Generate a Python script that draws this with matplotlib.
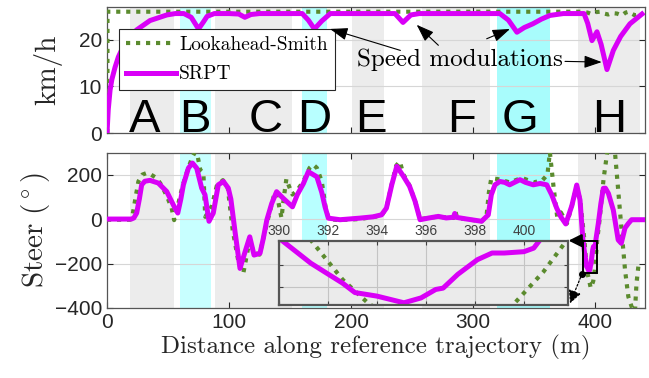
import matplotlib
matplotlib.use("Agg")
import matplotlib.pyplot as plt
from matplotlib.patches import Rectangle
from matplotlib.transforms import blended_transform_factory

plt.rcParams["mathtext.fontset"] = "cm"

# speed profile (km/h) along the reference path (m)
srpt_speed_x = [0, 1, 2.5, 4, 6.6, 9.3, 15, 24.3, 35.2, 49, 56, 63, 69, 75, 79, 82, 88,
                100, 108, 113, 118, 125, 160, 165, 170, 176, 183, 236, 242.6, 249, 256,
                322, 329, 336, 342, 349, 356, 363, 374, 391, 394, 397.5, 401.6, 405,
                409.8, 415, 421, 428.6, 438.5]
srpt_speed = [0, 5, 9.2, 11.5, 14.1, 16.3, 19.5, 22.1, 24.1, 25.3, 25.6, 25.6, 24.8, 22.3,
              23.8, 25, 25.6, 25.6, 25.5, 24.8, 25.4, 25.6, 25.6, 24.2, 22.3, 24, 25.6,
              25.6, 23.7, 25.3, 25.6, 25.6, 24.2, 21.6, 22.6, 23.4, 24.4, 25.2, 25.6,
              25.6, 23.5, 19.8, 21.7, 19, 13.6, 17.7, 20.7, 23.4, 25.5]
ls_speed_x = [0.3, 0.4, 390, 394, 397, 400.5, 404, 407.5, 410.8, 414, 418, 422, 425,
              427.6, 430, 432.8, 435]
ls_speed = [0, 26, 26, 25.8, 25.5, 25.9, 26, 25.6, 25.4, 25.7, 25.6, 25.2, 25.8, 26,
            25.6, 25.2, 25.4]

# steering angle (deg)
srpt_steer_x = [0, 20, 22, 24.3, 26.5, 28.4, 31, 35.2, 42, 48.9, 55.7, 58, 60.5, 62.6,
                66.7, 70, 73.5, 77.6, 80.3, 83.6, 87.1, 91.2, 95.4, 99.4, 101.5, 105, 109,
                113, 117, 120.5, 125.4, 128, 131, 135, 139, 144.5, 152, 156, 161, 165,
                172, 176, 178.7, 181.4, 191, 207, 218, 225, 229, 233.4, 237.5, 243, 248,
                252.5, 256.6, 264, 271.6, 278, 284, 285, 286, 295, 307, 312.5, 315, 318,
                322, 326, 330, 334, 338.5, 343, 349.4, 355, 360.4, 364.5, 368.6, 372, 376,
                381, 385, 387.7, 390.1, 391.3, 392.6, 393.1, 394.0, 395.1, 395.8, 396.4,
                396.7, 397.3, 398.1, 398.7, 399.2, 400.0, 400.4, 400.65, 402.7, 404.8,
                406.8, 408.5, 411, 415, 419, 421.5, 424.6, 427.3, 430, 439.6]
srpt_steer = [0, 0, 5, 27, 90, 154, 170, 174, 162, 124, 49, 27, 90, 154, 229, 252, 229,
              139, 109, -10, 27, 154, 169, 139, 90, -60, -222, -150, -80, -162, -154, -90,
              -4, 70, 123, 93, 55, 110, 160, 213, 190, 120, 55, 4, -3, 4, 10, 19, 49, 154,
              237, 192, 147, 80, -3, 5, 12, 5, 8, 25, 8, 0, -10, 19, 109, 154, 169, 165,
              154, 165, 177, 165, 154, 160, 154, 109, 49, 10, -22, 60, 153, 85, -95, -147,
              -192, -213, -221, -236, -225, -206, -203, -172, -139, -124, -124, -121,
              -113, -95, -20, 70, 138, 139, 115, 40, -94, -109, -40, -20, -3, -3]
ls_steer_x = [0, 19, 21, 23.5, 25.7, 29, 32.5, 36, 40.7, 45, 50, 53, 55, 58, 62, 66, 70,
              72, 74, 76.5, 79, 80.5, 83, 86, 90, 95, 99, 103, 108, 111.7, 115, 117, 120,
              125, 131, 137, 139, 141, 143, 145, 147, 149, 152, 156, 161, 166, 169, 172,
              176, 179.5, 182, 190, 207, 225, 229, 233.5, 237, 240, 243, 248, 252.5,
              256.6, 270, 284, 285.5, 287, 307, 311, 313, 315, 320, 330, 340, 350, 357,
              361, 363, 366, 369, 372, 377, 381, 385, 388, 391.3, 392.6, 393.7, 396.5,
              398.5, 399.5, 400.8, 401.7, 404, 407, 410, 413, 416.4, 419, 422, 424.6,
              427.3, 430, 432.5, 434, 435.5]
ls_steer = [-3, -3, 20, 100, 169, 200, 207, 200, 184, 150, 90, 49, -5, 60, 150, 220, 280,
            300, 290, 220, 207, 10, 30, 60, 150, 175, 140, -50, -200, -244, -150, -90,
            -150, -160, -20, 110, 120, 60, 5, 100, 180, 150, 110, 130, 170, 230, 245, 230,
            170, 40, 0, -5, 0, 15, 50, 160, 240, 259, 200, 150, 80, 0, 10, 5, 36, 5, -10,
            10, 120, 184, 180, 165, 185, 165, 175, 200, 300, 145, 10, 30, -20, 60, 150, 80,
            -95, -184, -240, -310, -280, -244, -166, -99, 10, 180, 300, 330, 297, 130, -64,
            -229, -349, -394, -440, -288, -214]

# road segments
seg_names = ["A", "B", "C", "D", "E", "F", "G", "H"]
seg_start = [19, 60, 88.5, 160, 201, 258, 320, 386]
seg_end = [55, 85, 152, 180, 227, 314, 363, 437]
seg_label_x = [31, 72, 130, 170, 216, 291, 338.5, 411.6]
seg_color = ["#ececec", "#c8ffff", "#ececec", "#b8ffff", "#ececec", "#ececec",
             "#a8fcfc", "#ececec"]

GREEN = "#5b8b2e"
MAG = "#d900f7"
AXC = "#262626"
SANS = "Liberation Sans"
SERIF = "cmr10"
DOT = (0, (1, 1.4))

fig = plt.figure(figsize=(6.49, 3.78), dpi=100)
ax1 = fig.add_axes([0.1649, 0.6481, 0.829, 0.3333])
ax2 = fig.add_axes([0.1649, 0.1852, 0.829, 0.41])

for ax in (ax1, ax2):
    for s, e, c in zip(seg_start, seg_end, seg_color):
        ax.axvspan(s, e, color=c, lw=0, zorder=0.2)
    ax.set_axisbelow(True)
    ax.grid(axis="y", color="#d6d6d6", lw=0.8)
    ax.set_xlim(0, 441)
    ax.set_xticks([0, 100, 200, 300, 400])
    ax.tick_params(direction="in", top=True, right=True, length=4, width=0.8,
                   colors=AXC, labelsize=15)
    for lab in ax.get_xticklabels() + ax.get_yticklabels():
        lab.set_fontfamily(SANS)
    for sp in ax.spines.values():
        sp.set_color("#555555")
        sp.set_linewidth(0.9)

# speed
ax1.plot(ls_speed_x, ls_speed, color=GREEN, lw=3, ls=DOT, label="Lookahead-Smith", zorder=3)
ax1.plot(srpt_speed_x, srpt_speed, color=MAG, lw=3.6, label="SRPT", zorder=4)
ax1.set_ylim(0, 27)
ax1.set_yticks([0, 10, 20])
ax1.set_xticklabels([])
ax1.set_ylabel("km/h", family=SERIF, fontsize=21, color=AXC, labelpad=12)
tr = blended_transform_factory(ax1.transData, ax1.transAxes)
for name, xl in zip(seg_names, seg_label_x):
    ax1.text(xl, 0.01, name, transform=tr, ha="center", va="baseline",
             fontsize=34, family=SANS, color="black", zorder=2)

leg = ax1.legend(loc="upper left", bbox_to_anchor=(0.022, 0.825), frameon=True,
                 fancybox=False, framealpha=1, edgecolor="#262626",
                 prop={"family": SERIF, "size": 14}, handlelength=2.6,
                 handletextpad=0.15, borderpad=0.35, labelspacing=0.6, borderaxespad=0)
leg.get_frame().set_linewidth(0.8)

ax1.text(289, 15.6, "Speed modulations", family=SERIF, fontsize=18, ha="center",
         va="center", zorder=6)
arrow_tail = [(240.5, 17.7), (271.6, 18.8), (311.2, 20.2), (375.4, 15.35)]
arrow_tip = [(182.8, 22.3), (253.8, 23.2), (330.3, 22.3), (405.5, 15.2)]
for t, h in zip(arrow_tail, arrow_tip):
    ax1.annotate("", xy=h, xytext=t,
                 arrowprops=dict(arrowstyle="-|>,head_length=0.9,head_width=0.32",
                                 color="black", lw=0.8, shrinkA=0, shrinkB=0,
                                 mutation_scale=12), zorder=6)

# steering
ax2.plot(ls_steer_x, ls_steer, color=GREEN, lw=3, ls=DOT, zorder=3)
ax2.plot(srpt_steer_x, srpt_steer, color=MAG, lw=3.6, zorder=4)
ax2.set_ylim(-400, 297)
ax2.set_yticks([-400, -200, 0, 200])
ax2.set_ylabel(r"$\mathrm{Steer}\ (^\circ)$", fontsize=21, color=AXC, labelpad=2)
ax2.set_xlabel("Distance along reference trajectory (m)", family=SERIF, fontsize=18,
               color=AXC, labelpad=2)

# zoom window
ax2.add_patch(Rectangle((390, -241), 11.8, 144, fill=False, ec="black", lw=1.4, zorder=7))
ax2.annotate("", xy=(378.3, -97), xytext=(390, -97),
             arrowprops=dict(arrowstyle="-|>,head_length=0.7,head_width=0.35",
                             color="black", lw=1.6, shrinkA=0, shrinkB=0,
                             mutation_scale=11), zorder=7)
ax2.annotate("", xy=(379.5, -379), xytext=(389.3, -247),
             arrowprops=dict(arrowstyle="-|>,head_length=0.7,head_width=0.35",
                             color="black", lw=0.9, ls=(0, (1.5, 1.5)), shrinkA=0,
                             shrinkB=0, mutation_scale=11), zorder=7)
ax2.plot([389.3], [-247], "o", color="black", ms=4, zorder=8)

axi = fig.add_axes([0.4299, 0.1931, 0.4453, 0.1693])
axi.set_facecolor("#ebebeb")
axi.plot(ls_steer_x, ls_steer, color=GREEN, lw=3, ls=DOT)
axi.plot(srpt_steer_x, srpt_steer, color=MAG, lw=3.6)
axi.set_xlim(390, 401.8)
axi.set_ylim(-241, -97)
axi.set_xticks([390, 392, 394, 396, 398, 400])
axi.set_yticks([-200, -150])
axi.set_yticklabels([])
axi.grid(True, color="#c4c4c4", lw=0.8)
axi.set_axisbelow(True)
axi.xaxis.tick_top()
axi.tick_params(direction="in", top=True, bottom=True, left=True, right=True,
                length=3, colors="#404040", labelsize=10, pad=2)
for lab in axi.get_xticklabels():
    lab.set_fontfamily(SANS)
for sp in axi.spines.values():
    sp.set_color("#555555")
    sp.set_linewidth(1.6)

fig.savefig("out.png", dpi=100)
